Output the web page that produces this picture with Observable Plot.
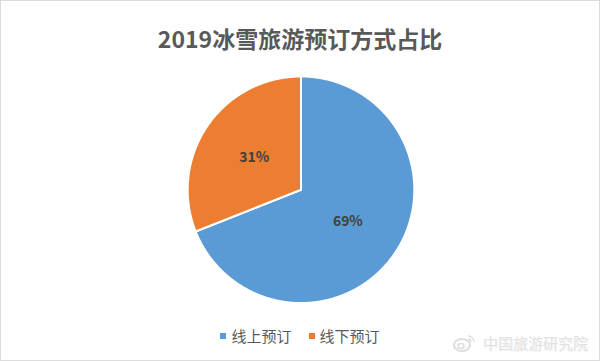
<!DOCTYPE html>
<html>
<head>
<meta charset="utf-8">
<script src="https://cdn.jsdelivr.net/npm/d3@7"></script>
<script src="https://cdn.jsdelivr.net/npm/@observablehq/plot@0.6"></script>
<style>
  html, body { margin: 0; padding: 0; background: #fff; }
  #frame { position: relative; width: 600px; height: 361px; box-sizing: border-box; border: 1px solid #dcdcdc; overflow: hidden; font-family: "Noto Sans CJK SC", "Noto Sans", sans-serif; }
  #title { position: absolute; left: 0; top: 20px; width: 100%; text-align: center; font-size: 23px; font-weight: bold; color: #595959; line-height: 34px; }
  #chart { position: absolute; left: -1px; top: 59px; }
  #legend { position: absolute; left: 0; top: 324px; width: 100%; display: flex; justify-content: center; gap: 17px; font-size: 15px; color: #595959; line-height: 22px; }
  #legend .item { display: flex; align-items: center; }
  #legend .sw { width: 6px; height: 6px; margin-right: 5px; }
  #wm { position: absolute; left: 450px; top: 331px; display: flex; align-items: center; color: #e2e2e2; font-size: 15px; text-shadow: 1px 1px 0 #f4f4f4; letter-spacing: 0px; }
</style>
</head>
<body>
<div id="frame">
  <div id="title"></div>
  <div id="chart"></div>
  <div id="legend"></div>
  <div id="wm"><svg width="26" height="20" viewBox="0 0 26 20"><ellipse cx="11" cy="12" rx="8" ry="6" fill="none" stroke="#dddddd" stroke-width="2"/><ellipse cx="10" cy="13" rx="3" ry="2.5" fill="none" stroke="#dddddd" stroke-width="1.5"/><path d="M17 3 A6 6 0 0 1 23 9" fill="none" stroke="#dddddd" stroke-width="1.5"/><path d="M17 6 A3 3 0 0 1 20 9" fill="none" stroke="#dddddd" stroke-width="1.5"/></svg><span style="margin-left:6px">中国旅游研究院</span></div>
</div>
<script>
const titleText = "2019冰雪旅游预订方式占比";
const categories = ["线上预订", "线下预订"];
const values = [69, 31];
const labels = ["69%", "31%"];
const colors = ["#5B9BD5", "#ED7D31"];

document.getElementById("title").textContent = titleText;

const arcs = d3.pie().sort(null).value(d => d)(values);

function slicePoints(a) {
  const pts = [{x: 0, y: 0}];
  const n = Math.max(2, Math.ceil((a.endAngle - a.startAngle) / (Math.PI / 360)));
  for (let k = 0; k <= n; k++) {
    const t = a.startAngle + (a.endAngle - a.startAngle) * k / n;
    pts.push({x: Math.sin(t), y: Math.cos(t)});
  }
  pts.push({x: 0, y: 0});
  return pts;
}

const labelData = arcs.map((a, i) => {
  const m = (a.startAngle + a.endAngle) / 2;
  return {x: 0.5 * Math.sin(m), y: 0.5 * Math.cos(m), text: labels[i]};
});

const R = 113.5;
const W = 600, H = 258;
const cx = 301, cyTop = 16;

const plot = Plot.plot({
  width: W,
  height: H,
  marginLeft: cx - R,
  marginRight: W - cx - R,
  marginTop: cyTop,
  marginBottom: H - cyTop - 2 * R,
  x: {domain: [-1, 1], axis: null},
  y: {domain: [-1, 1], axis: null},
  style: {fontFamily: "'Noto Sans CJK SC', 'Noto Sans', sans-serif", background: "transparent"},
  marks: [
    ...arcs.map((a, i) => Plot.line(slicePoints(a), {
      x: "x", y: "y", fill: colors[i], stroke: "white", strokeWidth: 2, strokeLinejoin: "round"
    })),
    Plot.text(labelData, {
      x: "x", y: "y", text: "text", fill: "#404040", fontSize: 14, fontWeight: "bold"
    })
  ]
});
document.getElementById("chart").appendChild(plot);

const legend = document.getElementById("legend");
categories.forEach((c, i) => {
  const item = document.createElement("div");
  item.className = "item";
  const sw = document.createElement("span");
  sw.className = "sw";
  sw.style.background = colors[i];
  const tx = document.createElement("span");
  tx.textContent = c;
  item.appendChild(sw);
  item.appendChild(tx);
  legend.appendChild(item);
});
</script>
</body>
</html>
